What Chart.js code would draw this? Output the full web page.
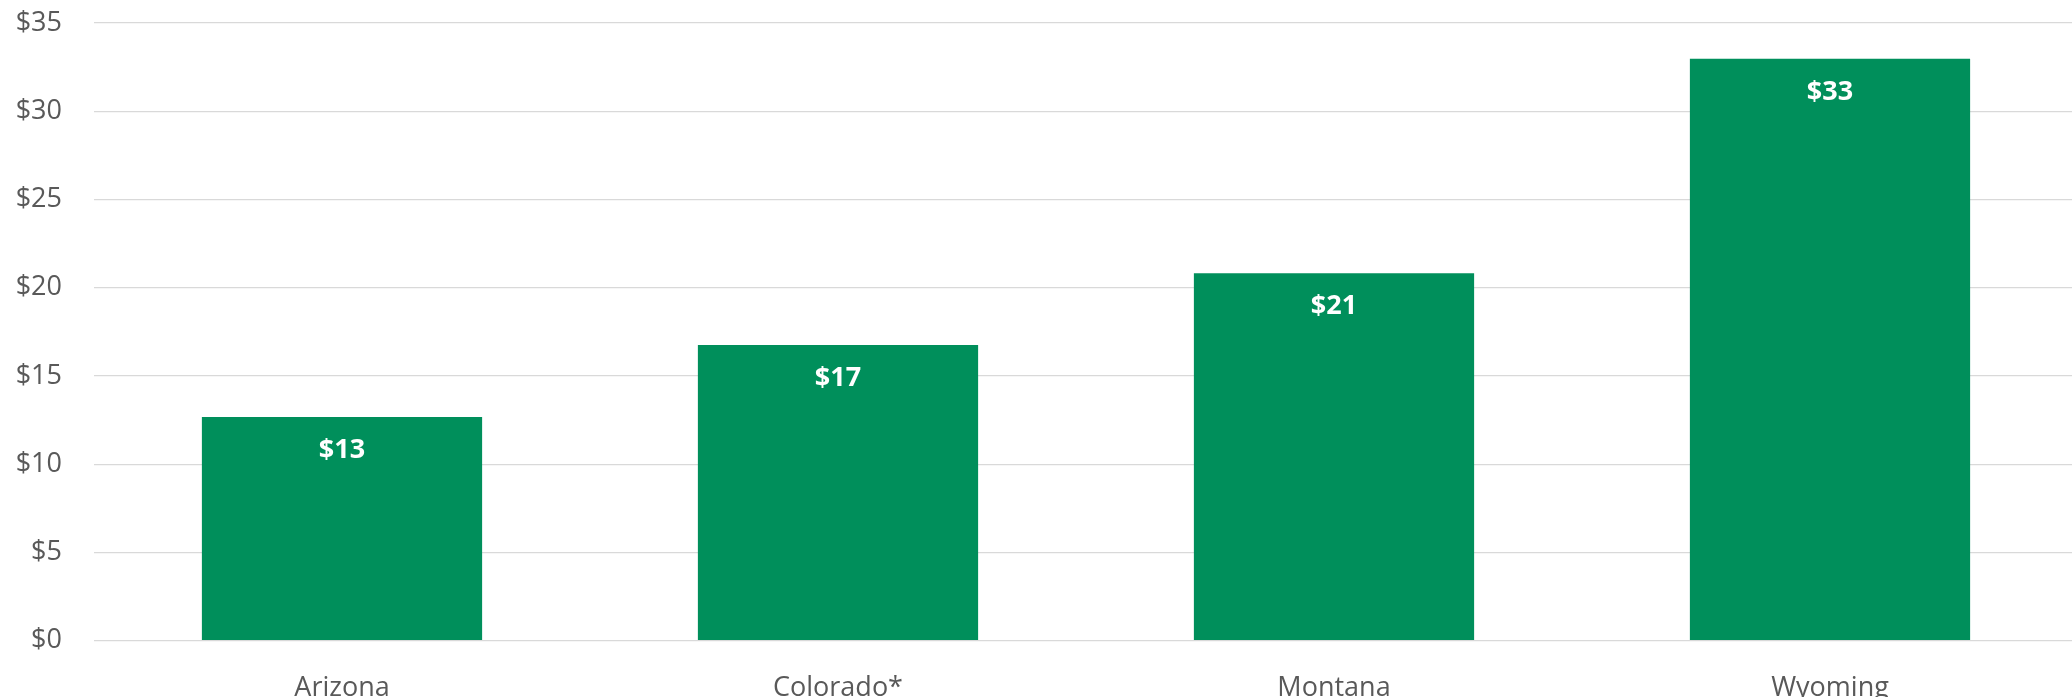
<!DOCTYPE html>
<html>
<head>
<meta charset="utf-8">
<script src="https://cdn.jsdelivr.net/npm/chart.js@4/dist/chart.umd.min.js"></script>
<style>
  html, body { margin: 0; padding: 0; background: #ffffff; overflow: hidden; }
  #wrap { width: 2072px; height: 697px; position: relative; overflow: hidden; }
</style>
</head>
<body>
<div id="wrap"><canvas id="c" width="2078" height="697"></canvas></div>
<script>
const categories = ["Arizona", "Colorado*", "Montana", "Wyoming"];
const values = [12.67, 16.75, 20.82, 32.97];
const yTicks = [0, 5, 10, 15, 20, 25, 30, 35];

const barLabels = {
  id: 'barLabels',
  afterDatasetsDraw(chart) {
    const ctx = chart.ctx;
    const meta = chart.getDatasetMeta(0);
    ctx.save();
    ctx.font = 'bold 27px "Open Sans"';
    ctx.fillStyle = '#ffffff';
    ctx.textAlign = 'center';
    ctx.textBaseline = 'middle';
    meta.data.forEach((bar, i) => {
      ctx.fillText('$' + Math.round(values[i]), bar.x, bar.y + 33);
    });
    ctx.restore();
  }
};

new Chart(document.getElementById('c'), {
  type: 'bar',
  data: {
    labels: categories,
    datasets: [{
      data: values,
      backgroundColor: '#008F5B',
      borderWidth: 0,
      categoryPercentage: 1,
      barPercentage: 0.565
    }]
  },
  options: {
    responsive: false,
    animation: false,
    devicePixelRatio: 1,
    layout: { padding: { top: 23, left: 0, right: 0, bottom: 0 } },
    plugins: { legend: { display: false }, tooltip: { enabled: false } },
    scales: {
      x: {
        grid: { display: false, drawTicks: false },
        border: { display: false },
        ticks: { color: '#595959', font: { family: 'Open Sans', size: 27 }, padding: 31 },
        afterFit(scale) { scale.height = 56.3; scale.paddingLeft = 0; scale.paddingRight = 0; }
      },
      y: {
        min: 0, max: 35,
        afterBuildTicks(scale) { scale.ticks = yTicks.map(v => ({ value: v })); },
        grid: { color: '#D9D9D9', lineWidth: 1.3, drawTicks: false },
        border: { display: false },
        ticks: {
          color: '#595959',
          font: { family: 'Open Sans', size: 27 },
          padding: 32,
          callback: (v) => '$' + v
        },
        afterFit(scale) { scale.width = 94; scale.paddingTop = 0; scale.paddingBottom = 0; }
      }
    }
  },
  plugins: [barLabels]
});
</script>
</body>
</html>
